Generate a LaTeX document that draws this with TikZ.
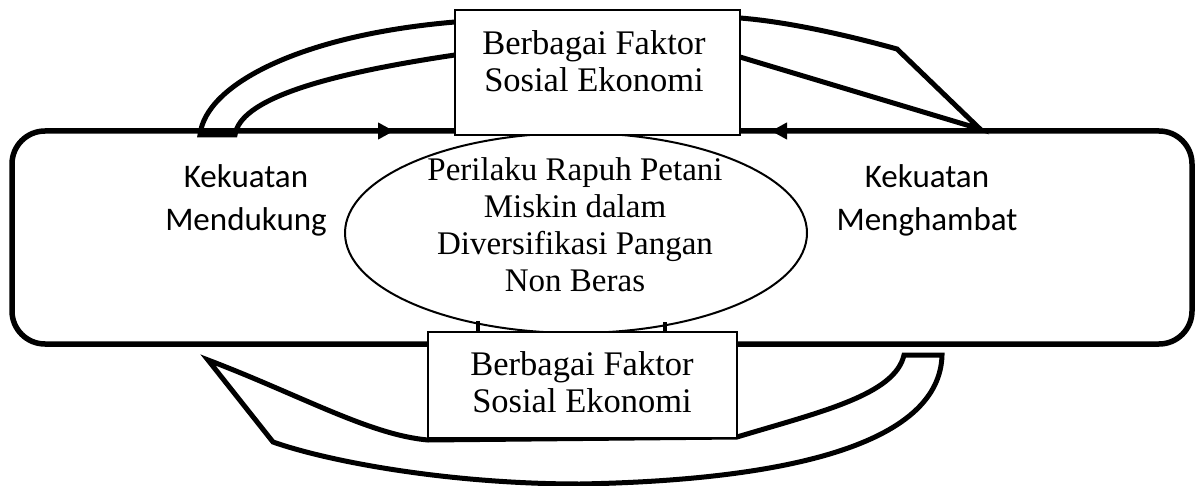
\documentclass[tikz,border=0pt]{standalone}
\usepackage{fontspec}
\setmainfont{Liberation Serif}
\newfontfamily\calibrifont{Carlito}
\usetikzlibrary{shapes.geometric,arrows.meta}
\begin{document}
\begin{tikzpicture}[x=1pt,y=-1pt,
  frameline/.style={line width=5.5pt},
  ribbon/.style={line width=5pt, line join=miter},
  factorbox/.style={draw, line width=2.2pt, fill=white, inner sep=0pt},
  serifTxt/.style={font=\fontsize{33}{37}\selectfont, align=center, inner sep=0pt},
  boxTxt/.style={font=\fontsize{34.5}{37}\selectfont, align=center, inner sep=0pt},
  sansTxt/.style={font=\calibrifont\fontsize{33}{43}\selectfont, align=center, inner sep=0pt},
  arrowhd/.style={line width=4pt, -{Triangle[length=16pt,width=16pt]}},
  stub/.style={line width=4pt}]
\fill[white] (0,0) rectangle (1196,486);
\useasboundingbox (0,0) rectangle (1196,486);

% outer frame
\draw[frameline, rounded corners=33pt] (12,131) rectangle (1192,344);

% top curved ribbon (right to left)
\draw[ribbon] (235,135) .. controls (240,100) and (320,75) .. (455,55) -- (740,57) -- (980,129) -- (897,49) .. controls (850,36) and (790,22) .. (740,18) -- (455,22) .. controls (300,35) and (205,85) .. (200,135) -- cycle;

% bottom curved ribbon (left to right)
\draw[ribbon] (208,360) .. controls (300,395) and (370,435) .. (428,440) -- (737,437) .. controls (820,412) and (895,395) .. (904,355) -- (942,355) .. controls (940,440) and (800,480) .. (580,484) .. controls (450,484) and (330,462) .. (273,442) -- cycle;

% central ellipse
\node[ellipse, draw, line width=2pt, minimum width=462pt, minimum height=200pt, inner sep=0pt] (center) at (576,233) {};
\node[serifTxt] (centertext) at (575,225) {Perilaku Rapuh Petani\\Miskin dalam\\Diversifikasi Pangan\\Non Beras};

% stubs between ellipse and lower box
\draw[stub] (478,321) -- (478,334);
\draw[stub] (665,322) -- (665,334);

% factor boxes
\node[factorbox, minimum width=285pt, minimum height=125pt] (topbox) at (597.5,72.5) {};
\node[boxTxt] (toptext) at (594,61) {Berbagai Faktor\\Sosial Ekonomi};
\node[factorbox, minimum width=309pt, minimum height=106pt] (botbox) at (582.5,385) {};
\node[boxTxt] (bottext) at (582,382) {Berbagai Faktor\\Sosial Ekonomi};

% arrowheads on the frame
\coordinate (la) at (366,131);
\coordinate (lb) at (394,131);
\coordinate (ra) at (800,131);
\coordinate (rb) at (771,131);
\draw[arrowhd] (la) -- (lb);
\draw[arrowhd] (ra) -- (rb);

% side labels
\node[sansTxt] (support) at (246,200) {Kekuatan\\Mendukung};
\node[sansTxt] (hinder) at (927,200) {Kekuatan\\Menghambat};
\end{tikzpicture}
\end{document}
